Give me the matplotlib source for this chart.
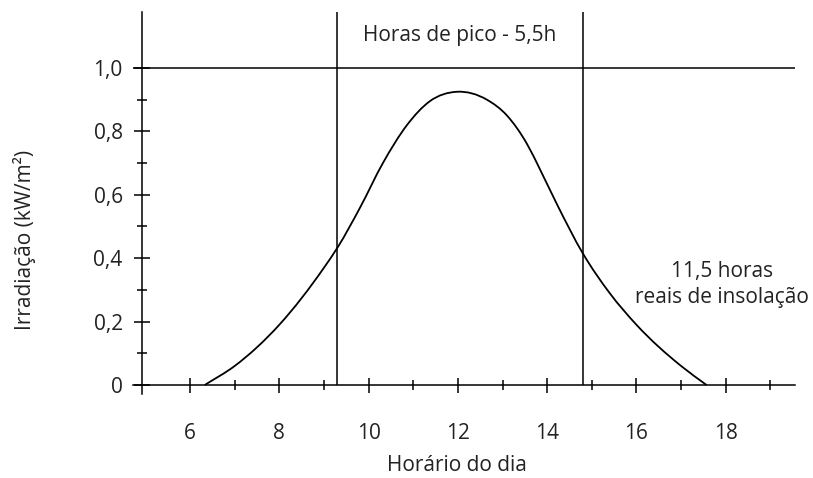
import numpy as np
import matplotlib.pyplot as plt
from matplotlib.path import Path
from matplotlib.patches import PathPatch
from matplotlib.ticker import FixedLocator, FuncFormatter

plt.rcParams['font.family'] = ['Open Sans', 'DejaVu Sans']

# Perfil de irradiacao ao longo do dia (kW/m2)
horas = [6.33, 7.0, 8.0, 9.0, 9.31, 9.81, 10.32, 10.86, 11.37, 11.98,
         12.65, 13.1, 13.55, 13.84, 14.22, 14.8, 15.4, 16.0, 17.0, 17.57]
irradiacao = [0.0, 0.06, 0.19, 0.37, 0.435, 0.56, 0.70, 0.82, 0.895, 0.925,
              0.90, 0.85, 0.76, 0.68, 0.57, 0.415, 0.29, 0.19, 0.06, 0.0]

# Janela das horas de pico (5,5 h) e nivel de 1 kW/m2
pico_inicio, pico_fim = 9.3, 14.8
nivel_ref = 1.0

x_maiores = [6, 8, 10, 12, 14, 16, 18]
x_menores = [7, 9, 11, 13, 15, 17, 19]
y_maiores = [0, 0.2, 0.4, 0.6, 0.8, 1.0]
y_menores = [0.1, 0.3, 0.5, 0.7, 0.9]

cor_texto = '#222222'
lw = 1.1
fs = 15

fig = plt.figure(figsize=(8.13, 4.78), dpi=100)
ax = fig.add_axes([0, 0, 1, 1])
ax.patch.set_visible(False)
ax.set_xlim(1.743, 19.955)
ax.set_ylim(-0.2934, 1.2145)

# limites desenhados dos eixos
x_ini, x_fim = 4.72, 19.55
y_ini, y_topo = -0.028, 1.177

for s in ['top', 'right']:
    ax.spines[s].set_visible(False)
ax.spines['left'].set_position(('data', 4.92))
ax.spines['left'].set_bounds(y_ini, y_topo)
ax.spines['bottom'].set_position(('data', 0))
ax.spines['bottom'].set_bounds(x_ini, x_fim)
for s in ['left', 'bottom']:
    ax.spines[s].set_linewidth(lw)

ax.xaxis.set_major_locator(FixedLocator(x_maiores))
ax.xaxis.set_minor_locator(FixedLocator(x_menores))
ax.yaxis.set_major_locator(FixedLocator(y_maiores))
ax.yaxis.set_minor_locator(FixedLocator(y_menores))
ax.xaxis.set_major_formatter(FuncFormatter(lambda v, p: f'{v:g}'))
ax.yaxis.set_major_formatter(
    FuncFormatter(lambda v, p: '0' if v == 0 else f'{v:.1f}'.replace('.', ',')))

ax.tick_params(axis='x', which='major', direction='inout', length=10.8,
               width=lw, pad=22, labelsize=fs, labelcolor=cor_texto)
ax.tick_params(axis='x', which='minor', direction='inout', length=6.5, width=lw)
ax.tick_params(axis='y', which='major', direction='inout', length=11.5,
               width=lw, pad=8, labelsize=fs, labelcolor=cor_texto)
ax.tick_params(axis='y', which='minor', direction='inout', length=7.2, width=lw)

# linhas de referencia
ax.hlines(nivel_ref, x_ini, x_fim, color='black', lw=lw)
ax.vlines([pico_inicio, pico_fim], 0, y_topo, color='black', lw=lw)

# curva suave: segmentos de Bezier com inclinacao estimada em cada ponto
x = np.array(horas)
y = np.array(irradiacao)
m = np.gradient(y, x)
verts = [(x[0], y[0])]
codes = [Path.MOVETO]
for i in range(len(x) - 1):
    d = (x[i + 1] - x[i]) / 3
    verts += [(x[i] + d, y[i] + m[i] * d),
              (x[i + 1] - d, y[i + 1] - m[i + 1] * d),
              (x[i + 1], y[i + 1])]
    codes += [Path.CURVE4] * 3
ax.add_patch(PathPatch(Path(verts, codes), fill=False, lw=lw + 0.2,
                       edgecolor='black'))

ax.text((pico_inicio + pico_fim) / 2, 1.104, 'Horas de pico - 5,5h',
        ha='center', va='center', fontsize=fs, color=cor_texto)
ax.text(17.92, 0.317, '11,5 horas\nreais de insolação', ha='center',
        va='center', multialignment='center', linespacing=1.3,
        fontsize=fs, color=cor_texto)
ax.text(11.98, -0.2555, 'Horário do dia', ha='center', va='center',
        fontsize=fs, color=cor_texto)
fig.text(24 / 813, 1 - 240 / 478, 'Irradiação (kW/m²)', rotation=90,
         ha='center', va='center', fontsize=fs, color=cor_texto)

fig.savefig('out.png', dpi=100)
